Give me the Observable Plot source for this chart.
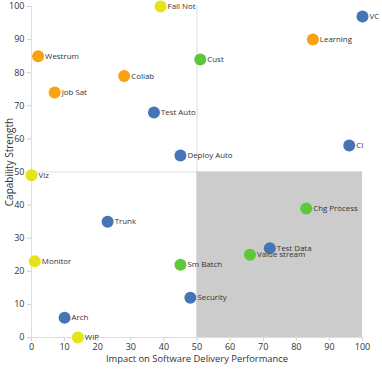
<!DOCTYPE html>
<html>
<head>
<meta charset="utf-8">
<script src="https://cdn.jsdelivr.net/npm/d3@7"></script>
<script src="https://cdn.jsdelivr.net/npm/@observablehq/plot@0.6"></script>
<style>
  html, body { margin: 0; padding: 0; background: #fff; }
  #chart svg { font-family: "Open Sans", sans-serif; }
  g[aria-label="x-axis"] line, g[aria-label="y-axis"] line,
  g[aria-label="x-axis"] path, g[aria-label="y-axis"] path,
  g[aria-label="x-axis tick"] path, g[aria-label="y-axis tick"] path { stroke: #cfcfcf; }
  g[aria-label="x-axis"] text, g[aria-label="y-axis"] text,
  g[aria-label="x-axis tick label"] text, g[aria-label="y-axis tick label"] text { fill: #333; }
</style>
</head>
<body>
<div id="chart"></div>
<script>
const names = ["Fail Not","Westrum","Collab","Job Sat","Test Auto","Deploy Auto","Viz","Cust","Learning","VC","CI",
               "Trunk","Monitor","Sm Batch","Security","Arch","WIP","Chg Process","Test Data","Value stream"];
const impact   = [39, 2, 28, 7, 37, 45, 0, 51, 85, 100, 96, 23, 1, 45, 48, 10, 14, 83, 72, 66];
const strength = [100, 85, 79, 74, 68, 55, 49, 84, 90, 97, 58, 35, 23, 22, 12, 6, 0, 39, 27, 25];
const group    = ["Monitoring","Cultural","Cultural","Cultural","Technical","Technical","Monitoring","Process","Cultural","Technical","Technical",
                  "Technical","Monitoring","Process","Technical","Technical","Monitoring","Process","Technical","Process"];
const groups = ["Technical","Cultural","Process","Monitoring"];
const groupColors = ["#4674b6","#f9a10f","#5ec83b","#e4e417"];
const xTicks = [0,10,20,30,40,50,60,70,80,90,100];
const yTicks = [0,10,20,30,40,50,60,70,80,90,100];
const xTitle = "Impact on Software Delivery Performance";
const yTitle = "Capability Strength";
const quadrant = [{x1: 50, x2: 100, y1: 0, y2: 50}];

const data = names.map((n, i) => ({name: n, x: impact[i], y: strength[i], g: group[i]}));

const chart = Plot.plot({
  width: 382,
  height: 369,
  marginLeft: 31,
  marginRight: 20,
  marginTop: 6,
  marginBottom: 32,
  style: {fontFamily: "Open Sans, sans-serif", fontSize: "9px", color: "#333", background: "#fff"},
  x: {domain: [0, 100], ticks: xTicks, tickSize: 4, tickPadding: 2, label: null},
  y: {domain: [0, 100], ticks: yTicks, tickSize: 4, tickPadding: 3, label: null},
  color: {domain: groups, range: groupColors},
  marks: [
    Plot.ruleX([0, 50], {stroke: "#dedede", strokeWidth: 1}),
    Plot.ruleY([0, 50], {stroke: "#dedede", strokeWidth: 1}),
    Plot.rect(quadrant, {x1: "x1", x2: "x2", y1: "y1", y2: "y2", fill: "#cccccc"}),
    Plot.dot(data, {x: "x", y: "y", r: 6, fill: "g", stroke: "none"}),
    Plot.text(data, {x: "x", y: "y", text: "name", dx: 7, textAnchor: "start", fill: "#333", fontSize: 7.9}),
    Plot.text([xTitle], {frameAnchor: "bottom", lineAnchor: "middle", textAnchor: "middle", dy: 21.5, fontSize: 9.4, fill: "#333"}),
    Plot.text([yTitle], {frameAnchor: "left", lineAnchor: "middle", textAnchor: "middle", rotate: -90, dx: -22, dy: -10, fontSize: 10, fill: "#333"})
  ]
});
document.getElementById("chart").appendChild(chart);
</script>
</body>
</html>
